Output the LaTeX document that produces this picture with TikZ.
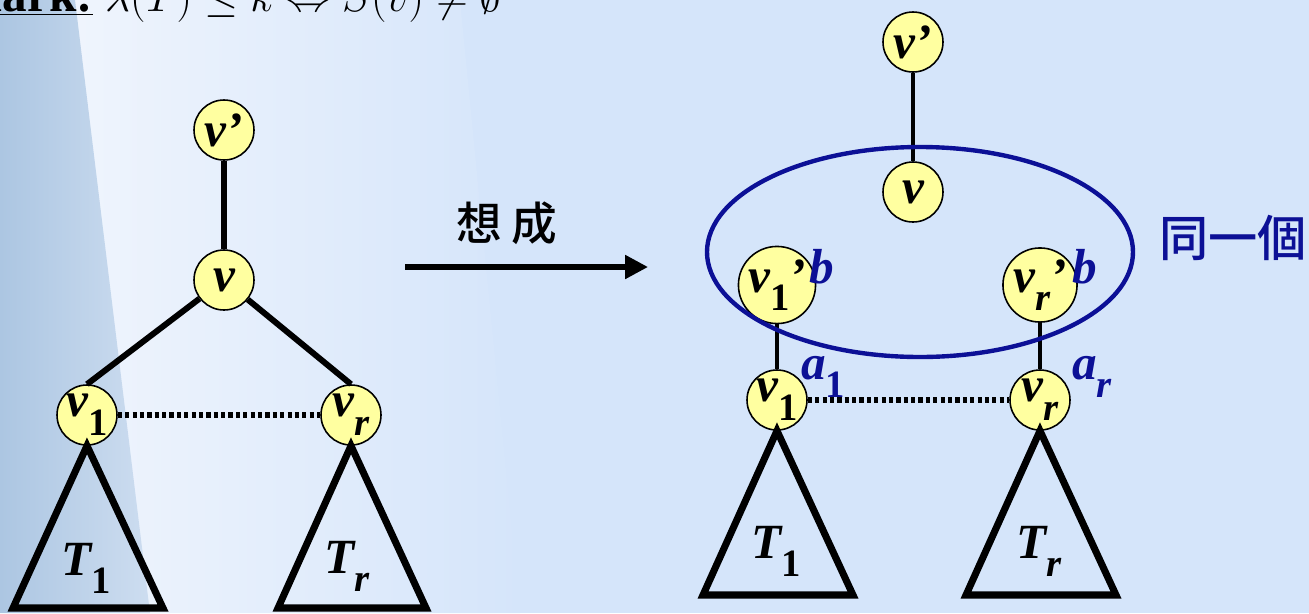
\documentclass[tikz,border=0pt]{standalone}
\usepackage{fontspec}
\setmainfont{Liberation Serif}
\newfontfamily\cjkfont{Noto Sans CJK TC Medium}
\usetikzlibrary{arrows.meta}
\definecolor{bgblue}{RGB}{213,229,250}
\definecolor{bglight}{RGB}{240,245,253}
\definecolor{stripdark}{RGB}{172,198,226}
\definecolor{striplight}{RGB}{205,221,240}
\definecolor{nodeyellow}{RGB}{255,255,160}
\definecolor{navy}{RGB}{12,16,150}
\newcommand\nfont{\fontsize{28}{30}\selectfont\bfseries\itshape}
\newcommand\lsub[1]{\raisebox{-0.38em}{\fontsize{22}{23}\selectfont #1}}
\begin{document}
\begin{tikzpicture}[x=0.02cm,y=-0.02cm,
  vtx/.style={circle,draw=black,line width=0.9pt,fill=nodeyellow,minimum size=1.2cm,inner sep=0pt,font=\nfont},
  edge/.style={line width=3.4pt},
  thinedge/.style={line width=2.6pt},
  dotline/.style={line width=3pt,dash pattern=on 2.4pt off 1.8pt},
  tri/.style={line width=4pt,line join=miter},
  lbl/.style={font=\nfont,inner sep=0pt},
  bluelbl/.style={font=\nfont,text=navy,inner sep=0pt},
  cjklbl/.style={font=\cjkfont\fontsize{26}{28}\selectfont,inner sep=0pt}]
\useasboundingbox (0,0) rectangle (1309,613);
% background
\fill[bgblue] (0,0) rectangle (1309,613);
\shade[left color=bglight,right color=bgblue] (60,0) -- (460,0) -- (520,613) -- (140,613) -- cycle;
\shade[left color=stripdark,right color=striplight] (0,0) -- (75,0) -- (150,613) -- (0,613) -- cycle;
% top text (cut off)
\node[anchor=base west,inner sep=0pt,font=\fontsize{28}{30}\selectfont] (remark) at (-96,11)
  {\underline{\textbf{Remark:}} $\lambda(T)\le k \Leftrightarrow S(v)\neq\emptyset$};
% left tree
\node[vtx] (lvp) at (224,130) {v’};
\node[vtx] (lv) at (224,280) {v};
\node[vtx] (lv1) at (87,415) {v\lsub{\upshape 1}};
\node[vtx] (lvr) at (351,415) {v\lsub{r}};
\draw[edge] (lvp) -- (lv);
\draw[edge] (lv) -- (lv1.north);
\draw[edge] (lv) -- (lvr.north);
\draw[dotline] (lv1) -- (lvr);
\draw[tri] (lv1.south) -- (13,608) -- (163,608) -- cycle;
\draw[tri] (lvr.south) -- (278,608) -- (426,608) -- cycle;
\node[lbl,anchor=base] (lt1) at (86,575) {T\lsub{\upshape 1}};
\node[lbl,anchor=base] (ltr) at (347,573) {T\lsub{r}};
% arrow
\coordinate (as) at (405,267);
\coordinate (ae) at (648,267);
\draw[line width=3pt,-{Triangle[length=13pt,width=13pt]}] (as) -- (ae);
\node[cjklbl] (think) at (507,223) {想\hspace{5pt}成};
% right tree
\node[vtx] (rvp) at (913,42) {v’};
\node[vtx] (rv) at (913,192) {v};
\node[vtx] (rv1p) at (777,285) {v\lsub{\upshape 1}’};
\node[vtx] (rvrp) at (1040,285) {v\lsub{r}’};
\node[vtx] (rv1) at (777,400) {v\lsub{\upshape 1}};
\node[vtx] (rvr) at (1040,400) {v\lsub{r}};
\draw[thinedge] (rvp) -- (rv);
\draw[thinedge] (rv1p) -- (rv1);
\draw[thinedge] (rvrp) -- (rvr);
\draw[dotline] (rv1) -- (rvr);
\draw[tri] (rv1.south) -- (703,595) -- (853,595) -- cycle;
\draw[tri] (rvr.south) -- (966,595) -- (1116,595) -- cycle;
\node[lbl,anchor=base] (rt1) at (776,558) {T\lsub{\upshape 1}};
\node[lbl,anchor=base] (rtr) at (1039,558) {T\lsub{r}};
% blue ellipse and labels
\draw[navy,line width=2.5pt] (920,252) ellipse [x radius=213, y radius=105];
\node[bluelbl,anchor=base west] (b1) at (809,283) {b};
\node[bluelbl,anchor=base west] (br) at (1072,283) {b};
\node[bluelbl,anchor=base west] (a1) at (801,379) {a\lsub{\upshape 1}};
\node[bluelbl,anchor=base west] (ar) at (1072,379) {a\lsub{r}};
\node[cjklbl,text=navy,font=\cjkfont\fontsize{28}{30}\selectfont] (same) at (1233,238) {同一個};
\end{tikzpicture}
\end{document}
